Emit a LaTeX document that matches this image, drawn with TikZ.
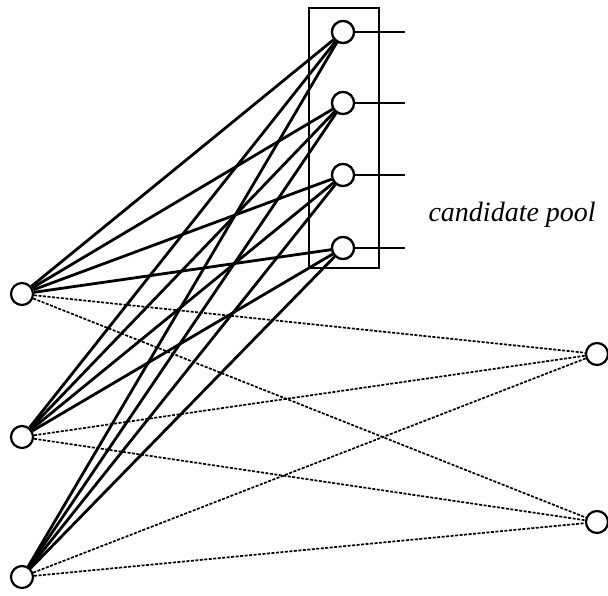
\documentclass[tikz,border=0pt]{standalone}
\usepackage{fontspec}
\setmainfont{Liberation Serif}
\usepackage{tikz,xcolor}
\usetikzlibrary{calc}

\begin{document}
\begin{tikzpicture}[x=1pt,y=-1pt,
  unit/.style={draw=black, line width=2.2pt, circle, inner sep=0pt, minimum size=22pt, fill=white},
  strong/.style={black, line width=2.8pt},
  weak/.style={black, line width=1.7pt, dash pattern=on 3pt off 1.5pt}]
\useasboundingbox (0,0) rectangle (608,596);
% candidate pool box
  \draw[black, line width=1.8pt] (309,8) rectangle (379,268);
% input units on the left
  \node[unit] (in1) at (22,294) {};
  \node[unit] (in2) at (22,437) {};
  \node[unit] (in3) at (22,577) {};
% output units on the right
  \node[unit] (out1) at (597,354) {};
  \node[unit] (out2) at (597,522) {};
% weak (dashed) connections, input to output
\foreach \i in {in1,in2,in3}
  \foreach \o in {out1,out2}
    \draw[weak] (\i) -- (\o);
% candidate units in the pool
  \node[unit] (c1) at (343,32) {};
  \node[unit] (c2) at (343,103) {};
  \node[unit] (c3) at (343,175) {};
  \node[unit] (c4) at (343,248) {};
% strong connections, input to candidates
\foreach \i in {in1,in2,in3}
  \foreach \c in {c1,c2,c3,c4}
    \draw[strong] (\i) -- (\c);
% candidate output lines
\foreach \c in {c1,c2,c3,c4} {
  \coordinate (\c e) at ($(\c)+(62,0)$);
  \draw[black, line width=1.8pt] (\c) -- (\c e);
}
% redraw the candidate circles over the lines
\foreach \c in {c1,c2,c3,c4}
  \node[unit] at (\c) {};
  \node[anchor=base west, font=\fontsize{28}{32}\selectfont\itshape] (pool) at (425,222) {candidate pool};
\end{tikzpicture}
\end{document}
